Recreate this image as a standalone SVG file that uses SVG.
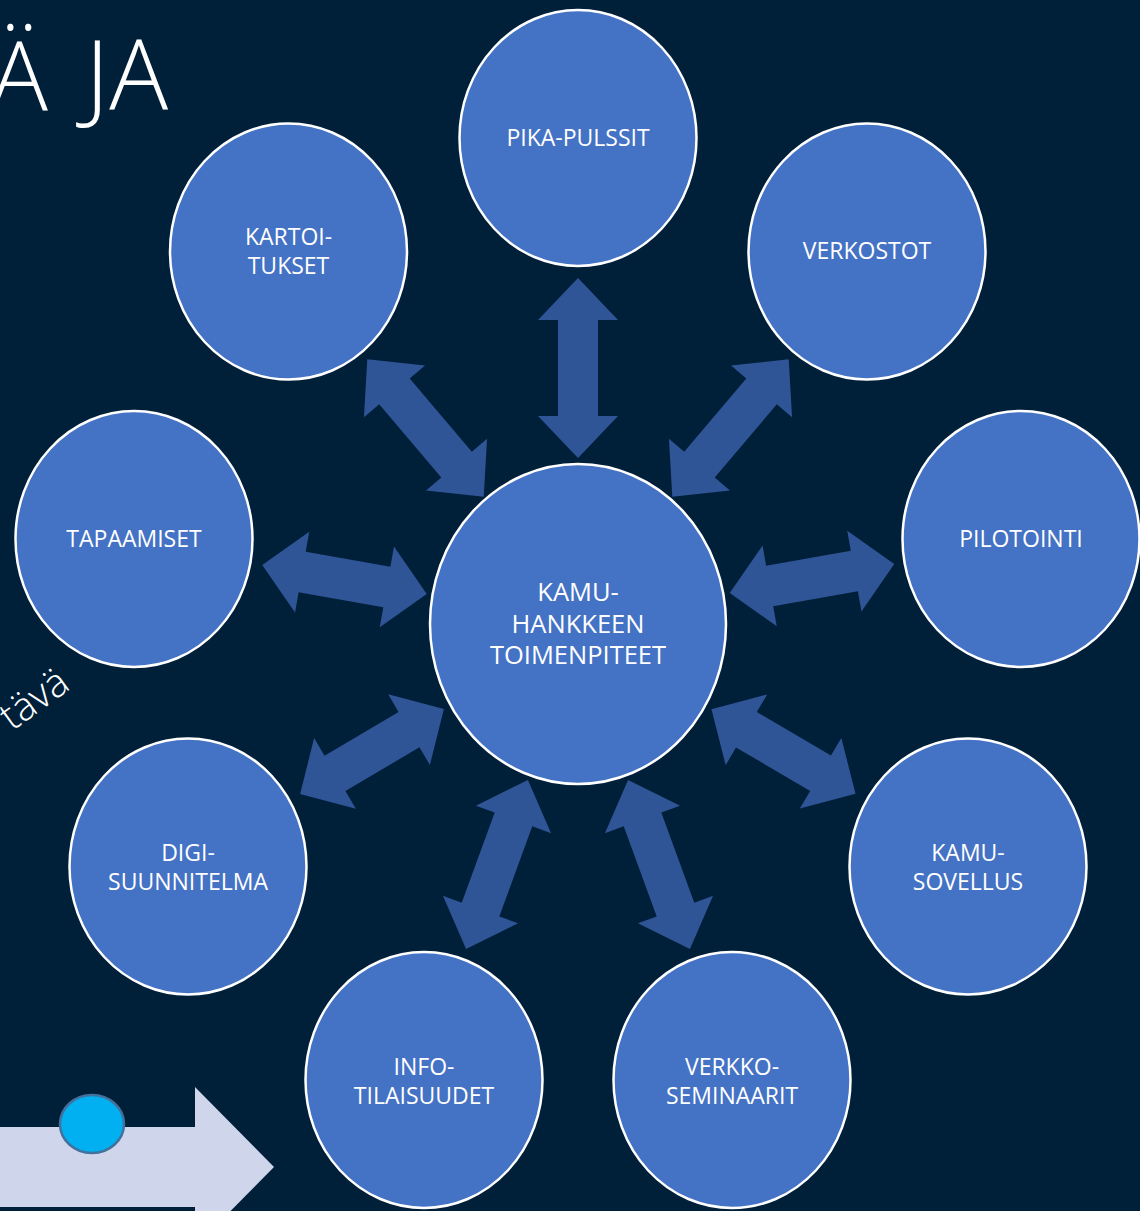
<svg xmlns="http://www.w3.org/2000/svg" width="1140" height="1211" viewBox="0 0 1140 1211">
<style>
.bg{fill:#00203A}
.node{fill:#4472C4;stroke:#FFFFFF;stroke-width:2.5}
.lbl{font-family:"Open Sans","Noto Sans",sans-serif;font-size:23px;fill:#FFFFFF;text-anchor:middle}
.big{font-size:25.5px}
.arr{fill:#2F5597}
.title{font-family:"Open Sans","Noto Sans",sans-serif;font-weight:300;fill:#FFFFFF}
</style>
<defs>
<polygon id="a180" points="-90,0 -48,-40 -48,-20 48,-20 48,-40 90,0 48,40 48,20 -48,20 -48,40"/>
<polygon id="a167" points="-83.5,0 -43,-41 -43,-20.5 43,-20.5 43,-41 83.5,0 43,41 43,20.5 -43,20.5 -43,41"/>
</defs>
<rect class="bg" x="0" y="0" width="1140" height="1211"/>
<text class="title" x="48" y="110" font-size="96" text-anchor="end">Ä</text>
<text class="title" x="168" y="110" font-size="98" text-anchor="end">JA</text>
<text class="title" x="0" y="0" transform="translate(72,688) rotate(-36)" font-size="40" text-anchor="end">tävä</text>
<g id="bottom-arrow">
<polygon points="0,1127 195,1127 195,1087 274,1167 195,1247 195,1207 0,1207" fill="#CFD5EA"/>
<ellipse cx="92" cy="1124" rx="32" ry="29" fill="#00B0F0" stroke="#41719C" stroke-width="2.5"/>
</g>
<g id="connectors" class="arr">
<use href="#a180" transform="translate(578,368) rotate(90)"/>
<use href="#a180" transform="translate(425.5,428) rotate(49.7)"/>
<use href="#a180" transform="translate(730.5,428) rotate(130.3)"/>
<use href="#a167" transform="translate(344.5,579.5) rotate(9.97)"/>
<use href="#a167" transform="translate(812,578.5) rotate(-9.97)"/>
<use href="#a167" transform="translate(372,751.5) rotate(149.4)"/>
<use href="#a167" transform="translate(783.5,751.5) rotate(30.4)"/>
<use href="#a180" transform="translate(497,864.5) rotate(110.1)"/>
<use href="#a180" transform="translate(659,864.5) rotate(69.9)"/>
</g>
<g id="n-center"><ellipse class="node" cx="578" cy="624" rx="148" ry="160"/>
<text class="lbl big" x="578" y="601">KAMU-</text><text class="lbl big" x="578" y="633">HANKKEEN</text><text class="lbl big" x="578" y="664">TOIMENPITEET</text></g>
<g id="n-pika"><ellipse class="node" cx="578" cy="138" rx="118.5" ry="128"/><text class="lbl" x="578" y="146">PIKA-PULSSIT</text></g>
<g id="n-kartoi"><ellipse class="node" cx="288.5" cy="251.5" rx="118.5" ry="128"/><text class="lbl" x="288.5" y="245">KARTOI-</text><text class="lbl" x="288.5" y="274">TUKSET</text></g>
<g id="n-verkostot"><ellipse class="node" cx="867" cy="251.5" rx="118.5" ry="128"/><text class="lbl" x="867" y="259">VERKOSTOT</text></g>
<g id="n-tapaamiset"><ellipse class="node" cx="134" cy="539" rx="118.5" ry="128"/><text class="lbl" x="134" y="547">TAPAAMISET</text></g>
<g id="n-pilotointi"><ellipse class="node" cx="1021" cy="539" rx="118.5" ry="128"/><text class="lbl" x="1021" y="547">PILOTOINTI</text></g>
<g id="n-digi"><ellipse class="node" cx="188" cy="866.5" rx="118.5" ry="128"/><text class="lbl" x="188" y="861">DIGI-</text><text class="lbl" x="188" y="890">SUUNNITELMA</text></g>
<g id="n-sovellus"><ellipse class="node" cx="968" cy="866.5" rx="118.5" ry="128"/><text class="lbl" x="968" y="861">KAMU-</text><text class="lbl" x="968" y="890">SOVELLUS</text></g>
<g id="n-info"><ellipse class="node" cx="424" cy="1080" rx="118.5" ry="128"/><text class="lbl" x="424" y="1075">INFO-</text><text class="lbl" x="424" y="1104">TILAISUUDET</text></g>
<g id="n-verkko"><ellipse class="node" cx="732" cy="1080" rx="118.5" ry="128"/><text class="lbl" x="732" y="1075">VERKKO-</text><text class="lbl" x="732" y="1104">SEMINAARIT</text></g>
</svg>
